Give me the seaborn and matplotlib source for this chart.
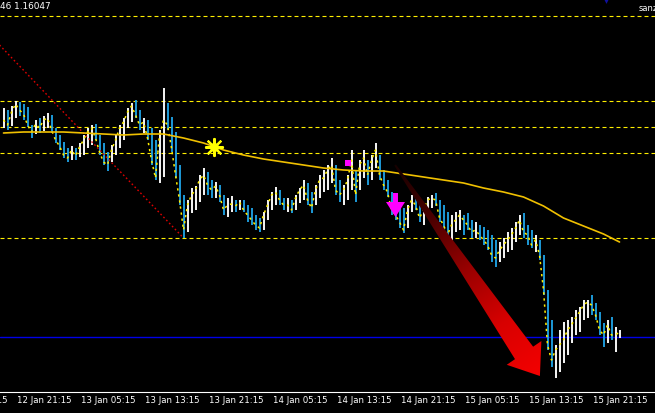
import numpy as np
import pandas as pd
import seaborn as sns
import matplotlib.pyplot as plt
import matplotlib.transforms as mtransforms
from matplotlib.patches import Polygon, FancyArrow
from matplotlib.colors import LinearSegmentedColormap

plt.switch_backend('Agg')

# --- price data (30 min bars) ---
highs = [
    1.1592, 1.1590, 1.1594, 1.1599, 1.1598, 1.1596, 1.1593, 1.1575, 1.1580, 1.1582,
    1.1584, 1.1587, 1.1585, 1.1572, 1.1565, 1.1558, 1.1552, 1.1554, 1.1552, 1.1557,
    1.1565, 1.1572, 1.1575, 1.1576, 1.1565, 1.1557, 1.1548, 1.1555, 1.1565, 1.1575,
    1.1582, 1.1592, 1.1597, 1.1600, 1.1590, 1.1582, 1.1580, 1.1572, 1.1560, 1.1570,
    1.1612, 1.1597, 1.1583, 1.1568, 1.1535, 1.1505, 1.1500, 1.1512, 1.1514, 1.1525,
    1.1532, 1.1528, 1.1520, 1.1518, 1.1515, 1.1505, 1.1502, 1.1504, 1.1500, 1.1500,
    1.1500, 1.1495, 1.1492, 1.1485, 1.1482, 1.1488, 1.1500, 1.1508, 1.1513, 1.1510,
    1.1502, 1.1502, 1.1500, 1.1505, 1.1512, 1.1520, 1.1517, 1.1508, 1.1515, 1.1525,
    1.1530, 1.1535, 1.1542, 1.1535, 1.1520, 1.1515, 1.1525, 1.1550, 1.1530, 1.1540,
    1.1550, 1.1540, 1.1545, 1.1557, 1.1545, 1.1530, 1.1520, 1.1508, 1.1505, 1.1495,
    1.1492, 1.1495, 1.1505, 1.1507, 1.1502, 1.1495, 1.1503, 1.1505, 1.1507, 1.1500,
    1.1495, 1.1488, 1.1485, 1.1488, 1.1490, 1.1485, 1.1487, 1.1480, 1.1478, 1.1475,
    1.1473, 1.1470, 1.1465, 1.1460, 1.1458, 1.1462, 1.1468, 1.1472, 1.1478, 1.1485,
    1.1487, 1.1475, 1.1470, 1.1465, 1.1460, 1.1445, 1.1410, 1.1380, 1.1355, 1.1370,
    1.1378, 1.1380, 1.1383, 1.1390, 1.1393, 1.1400, 1.1400, 1.1405, 1.1397, 1.1388,
    1.1377, 1.1380, 1.1383, 1.1373, 1.1370,
]
lows = [
    1.1572, 1.1570, 1.1574, 1.1582, 1.1584, 1.1580, 1.1573, 1.1562, 1.1566, 1.1567,
    1.1569, 1.1572, 1.1567, 1.1557, 1.1550, 1.1542, 1.1538, 1.1540, 1.1540, 1.1543,
    1.1545, 1.1552, 1.1555, 1.1560, 1.1545, 1.1535, 1.1529, 1.1538, 1.1545, 1.1552,
    1.1560, 1.1572, 1.1578, 1.1582, 1.1570, 1.1567, 1.1560, 1.1535, 1.1520, 1.1517,
    1.1523, 1.1570, 1.1548, 1.1522, 1.1495, 1.1462, 1.1468, 1.1487, 1.1490, 1.1498,
    1.1505, 1.1505, 1.1502, 1.1502, 1.1498, 1.1485, 1.1483, 1.1488, 1.1488, 1.1490,
    1.1488, 1.1478, 1.1475, 1.1470, 1.1468, 1.1470, 1.1480, 1.1490, 1.1495, 1.1495,
    1.1490, 1.1488, 1.1487, 1.1490, 1.1497, 1.1500, 1.1495, 1.1487, 1.1495, 1.1502,
    1.1508, 1.1510, 1.1517, 1.1505, 1.1498, 1.1495, 1.1500, 1.1510, 1.1498, 1.1510,
    1.1522, 1.1515, 1.1520, 1.1532, 1.1520, 1.1510, 1.1503, 1.1485, 1.1480, 1.1472,
    1.1467, 1.1472, 1.1488, 1.1490, 1.1478, 1.1475, 1.1488, 1.1492, 1.1494, 1.1478,
    1.1470, 1.1460, 1.1458, 1.1468, 1.1470, 1.1465, 1.1470, 1.1462, 1.1462, 1.1460,
    1.1455, 1.1450, 1.1438, 1.1433, 1.1438, 1.1442, 1.1448, 1.1450, 1.1458, 1.1465,
    1.1462, 1.1455, 1.1452, 1.1448, 1.1440, 1.1405, 1.1350, 1.1333, 1.1322, 1.1328,
    1.1337, 1.1345, 1.1357, 1.1365, 1.1368, 1.1380, 1.1382, 1.1385, 1.1380, 1.1365,
    1.1353, 1.1357, 1.1360, 1.1348, 1.1362,
]
closes = [
    1.1580, 1.1575, 1.1588, 1.1596, 1.1590, 1.1586, 1.1575, 1.1568, 1.1576, 1.1572,
    1.1580, 1.1582, 1.1570, 1.1560, 1.1554, 1.1545, 1.1542, 1.1550, 1.1544, 1.1553,
    1.1560, 1.1568, 1.1572, 1.1562, 1.1548, 1.1538, 1.1535, 1.1550, 1.1560, 1.1572,
    1.1578, 1.1588, 1.1594, 1.1585, 1.1575, 1.1578, 1.1562, 1.1540, 1.1522, 1.1565,
    1.1580, 1.1575, 1.1552, 1.1525, 1.1500, 1.1470, 1.1495, 1.1505, 1.1510, 1.1520,
    1.1525, 1.1515, 1.1510, 1.1514, 1.1505, 1.1490, 1.1495, 1.1496, 1.1494, 1.1498,
    1.1490, 1.1485, 1.1480, 1.1475, 1.1472, 1.1485, 1.1495, 1.1505, 1.1508, 1.1500,
    1.1495, 1.1495, 1.1490, 1.1502, 1.1510, 1.1515, 1.1500, 1.1492, 1.1510, 1.1520,
    1.1522, 1.1530, 1.1535, 1.1510, 1.1505, 1.1510, 1.1520, 1.1540, 1.1505, 1.1535,
    1.1542, 1.1525, 1.1540, 1.1550, 1.1525, 1.1515, 1.1508, 1.1490, 1.1485, 1.1478,
    1.1470, 1.1490, 1.1500, 1.1495, 1.1482, 1.1490, 1.1500, 1.1502, 1.1500, 1.1482,
    1.1475, 1.1465, 1.1475, 1.1480, 1.1485, 1.1480, 1.1475, 1.1468, 1.1470, 1.1465,
    1.1460, 1.1455, 1.1445, 1.1442, 1.1450, 1.1455, 1.1460, 1.1465, 1.1472, 1.1480,
    1.1468, 1.1465, 1.1455, 1.1460, 1.1445, 1.1410, 1.1355, 1.1340, 1.1350, 1.1355,
    1.1360, 1.1370, 1.1375, 1.1382, 1.1388, 1.1395, 1.1398, 1.1395, 1.1385, 1.1370,
    1.1365, 1.1375, 1.1365, 1.1365, 1.1368,
]

# moving average, sampled every 5 bars
ma_bars = [0, 5, 10, 15, 20, 25, 30, 35, 40, 45, 50, 55, 60, 65, 70, 75,
           80, 85, 90, 95, 100, 105, 110, 115, 120, 125, 130, 135, 140, 145, 150, 154]
ma_vals = [1.1567, 1.1568, 1.1568, 1.1568, 1.1567, 1.1566, 1.1565, 1.1566,
           1.1566, 1.1562, 1.1557, 1.1550, 1.1545, 1.1541, 1.1538, 1.1535,
           1.1532, 1.1530, 1.1529, 1.1529, 1.1526, 1.1523, 1.1520, 1.1517,
           1.1512, 1.1508, 1.1503, 1.1494, 1.1482, 1.1474, 1.1466, 1.1458]

levels = [1.1684, 1.1599, 1.1573, 1.1547, 1.1462]
support = 1.1363

tick_bars = [3, 19, 35, 51, 67, 83, 99, 115, 131, 147]
tick_labels = ['12 Jan 21:15', '13 Jan 05:15', '13 Jan 13:15', '13 Jan 21:15',
               '14 Jan 05:15', '14 Jan 13:15', '14 Jan 21:15', '15 Jan 05:15',
               '15 Jan 13:15', '15 Jan 21:15']
prev_tick = (-13, '12 Jan 13:15')

trend_start = (-1, 1.1655)
trend_end = (45, 1.1462)
star_pt = (52.5, 1.1553)
square_pt = (86, 1.1537)
down_arrow = (98, 1.1507, 1.1483)
red_tail = (97.9, 1.1535)
red_tip = (134.1, 1.1324)

WHITE = '#ffffff'
BLUE = '#1e9fe0'
YELLOW = '#ffee00'
GOLD = '#f0c000'

sns.set_style('dark', {'axes.facecolor': 'black', 'figure.facecolor': 'black',
                       'axes.grid': False})
plt.rcParams['font.family'] = ['DejaVu Sans']

fig = plt.figure(figsize=(6.55, 4.13), dpi=100)
ax = fig.add_axes([0, 21 / 413, 1, 392 / 413])
ax.set_facecolor('black')
ax.set_xlim(-0.875, 162.875)
ax.set_ylim(1.1308, 1.1700)
ax.set_autoscale_on(False)

df = pd.DataFrame({'bar': np.arange(len(closes)), 'high': highs,
                   'low': lows, 'close': closes})
prev = df['close'].shift(1).fillna(df['close'])
colors = [WHITE if c >= p else BLUE for c, p in zip(df['close'], prev)]

# horizontal levels
for lv in levels:
    ax.axhline(lv, color=YELLOW, lw=0.8, dashes=(3.6, 2.7), zorder=1)
ax.axhline(support, color='#0000e6', lw=1.0, zorder=1)

# bars
ax.vlines(df['bar'], df['low'], df['high'], colors=colors, lw=1.35, zorder=2)

# close line (dotted) and moving average
sns.lineplot(data=df, x='bar', y='close', ax=ax, color=YELLOW, lw=1.1,
             linestyle=(0, (1.5, 2.5)), zorder=3)
sns.lineplot(x=ma_bars, y=ma_vals, ax=ax, color=GOLD, lw=1.2, zorder=3)

# red dotted trend line
ax.plot([trend_start[0], trend_end[0]], [trend_start[1], trend_end[1]],
        color='#dd0000', lw=1.0, linestyle=(0, (1.2, 1.8)), zorder=2)

# yellow sun marker
ax.scatter([star_pt[0]], [star_pt[1]], marker=(8, 2, 0), s=150, color='#ffff00',
           lw=1.6, zorder=5)
ax.scatter([star_pt[0]], [star_pt[1]], marker='o', s=30, color='#ffff00', zorder=5)

# magenta square and down arrow
ax.scatter([square_pt[0]], [square_pt[1]], marker='s', s=22, color='#ff00ff',
           zorder=5, linewidths=0)
ax.add_patch(FancyArrow(down_arrow[0], down_arrow[1], 0, down_arrow[2] - down_arrow[1],
                        width=1.25, head_width=4.75, head_length=0.0015,
                        length_includes_head=True, color='#ff00ff', lw=0, zorder=5))

# big red gradient arrow (built in pixel space)
tail_d = ax.transData.transform(red_tail)
tip_d = ax.transData.transform(red_tip)
vec = tip_d - tail_d
length = np.hypot(*vec)
u = vec / length
perp = np.array([u[1], -u[0]])
head_len, head_half, shaft_half = 28, 21, 11
base = tip_d - head_len * u
pts_d = np.array([
    tail_d + 1.0 * perp,
    base + shaft_half * perp,
    base + head_half * perp,
    tip_d,
    base - head_half * perp,
    base - shaft_half * perp,
    tail_d - 1.0 * perp,
])
pts = ax.transData.inverted().transform(pts_d)
poly = Polygon(pts, closed=True, transform=ax.transData, facecolor='none',
               edgecolor='none')
ax.add_patch(poly)

x0, x1 = pts[:, 0].min(), pts[:, 0].max()
y0, y1 = pts[:, 1].min(), pts[:, 1].max()
gx, gy = np.meshgrid(np.linspace(x0, x1, 200), np.linspace(y0, y1, 200))
gd = ax.transData.transform(np.column_stack([gx.ravel(), gy.ravel()]))
t = ((gd - tail_d) @ u / length).reshape(gx.shape)
cmap = LinearSegmentedColormap.from_list(
    'redfade', ['#160000', '#4a0000', '#9a0000', '#d80000', '#f40000'])
im = ax.imshow(np.clip(t, 0, 1), extent=[x0, x1, y0, y1], origin='lower',
               aspect='auto', cmap=cmap, vmin=0, vmax=1, zorder=4,
               interpolation='bilinear')
im.set_clip_path(poly)
ax.set_xlim(-0.875, 162.875)
ax.set_ylim(1.1308, 1.1700)

# axes styling
for side in ['top', 'left', 'right']:
    ax.spines[side].set_visible(False)
ax.spines['bottom'].set_color('white')
ax.spines['bottom'].set_linewidth(0.8)
ax.set_yticks([])
ax.set_xticks(tick_bars)
ax.set_xticklabels([])
ax.tick_params(axis='x', colors='white', length=3, width=0.8, direction='out')
ax.set_xlabel('')
ax.set_ylabel('')

lab_tr = mtransforms.blended_transform_factory(ax.transData, ax.transAxes)
for b, lab in zip([prev_tick[0]] + tick_bars, [prev_tick[1]] + tick_labels):
    ax.text(b + 0.3, -0.011, lab, transform=lab_tr, ha='left', va='top',
            color='white', fontsize=6.2, clip_on=False)

# header texts, cut by the window edges as in the terminal screenshot
fig.text(0.0, 0.995, '46 1.16047', color='white', fontsize=6.4, ha='left', va='top')
fig.text(0.975, 0.99, 'sanz', color='white', fontsize=6.0, ha='left', va='top')
ax.scatter([150.5], [1.1699], marker='v', s=12, color='#1010a0', zorder=5,
           linewidths=0, clip_on=False)

fig.savefig('out.png', dpi=100, facecolor='black')
plt.close(fig)
